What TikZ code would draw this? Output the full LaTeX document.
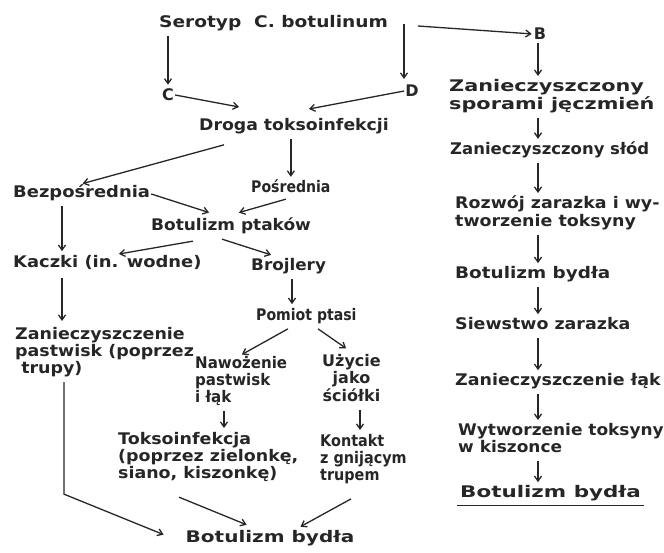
\documentclass[tikz,border=0pt]{standalone}
\usepackage{fontspec}
\usepackage{graphicx}
\setmainfont{DejaVu Sans}
\usetikzlibrary{arrows.meta,calc}
\newcommand\hs[2]{\scalebox{#1}[1]{\begin{tabular}{@{}l@{}}#2\end{tabular}}}
\newcommand\hsc[2]{\scalebox{#1}[1]{\begin{tabular}{@{}c@{}}#2\end{tabular}}}
\begin{document}
\begin{tikzpicture}[x=1pt,y=-1pt,
  t/.style={inner sep=1pt,font=\bfseries\fontsize{16}{17}\selectfont,text=black!85},
  arr/.style={-{Straight Barb[length=5pt,width=7pt]},line width=1.3pt,black!85,shorten >=1pt},
  ln/.style={line width=1.3pt,black!85}]
\useasboundingbox (0,0) rectangle (664,553);
% left part
\node[t,anchor=west] (ser) at (158,24) {\hs{1.16}{Serotyp\ \ C. botulinum}};
\node[t] (C) at (168,95) {C};
\node[t] (D) at (412,91) {D};
\node[t] (B) at (540,34) {B};
\node[t,anchor=west] (droga) at (198,127) {\hs{1.08}{Droga toksoinfekcji}};
\node[t,anchor=west] (bez) at (12,194) {\hs{1.12}{Bezpośrednia}};
\node[t,anchor=west] (pos) at (250,189) {\hs{0.88}{Pośrednia}};
\node[t,anchor=west] (bp) at (150,227) {\hs{1.06}{Botulizm ptaków}};
\node[t,anchor=west] (kacz) at (12,264) {\hs{1.12}{Kaczki (in. wodne)}};
\node[t,anchor=west] (broj) at (250,267) {\hs{1.05}{Brojlery}};
\node[t,anchor=north west] (zan) at (14,326) {\hs{1.09}{Zanieczyszczenie\\pastwisk (poprzez\\\ trupy)}};
\node[t,anchor=west] (pom) at (255,317) {\hs{0.88}{Pomiot ptasi}};
\node[t,anchor=north west] (naw) at (194,355) {\hs{0.94}{Nawożenie\\pastwisk\\i łąk}};
\node[t,anchor=north west] (uzy) at (321,353) {\hsc{1.0}{Użycie\\jako\\ściółki}};
\node[t,anchor=north west] (tok) at (117,431) {\hs{1.09}{Toksoinfekcja\\(poprzez zielonkę,\\siano, kiszonkę)}};
\node[t,anchor=north west] (kon) at (319,433) {\hs{0.9}{Kontakt\\z gnijącym\\trupem}};
\node[t] (bb) at (270,539) {\hs{1.25}{Botulizm bydła}};
% right column
\node[t,anchor=north west] (r1) at (448,78) {\hs{1.3}{Zanieczyszczony\\sporami jęczmień}};
\node[t,anchor=west] (r2) at (449,151) {\hs{1.03}{Zanieczyszczony słód}};
\node[t,anchor=north west] (r3) at (454,195) {\hs{1.09}{Rozwój zarazka i wy-\\tworzenie toksyny}};
\node[t,anchor=west] (r4) at (454,275) {\hs{1.15}{Botulizm bydła}};
\node[t,anchor=west] (r5) at (454,326) {\hs{1.09}{Siewstwo zarazka}};
\node[t,anchor=west] (r6) at (454,382) {\hs{1.09}{Zanieczyszczenie łąk}};
\node[t,anchor=north west] (r7) at (457,422) {\hs{1.06}{Wytworzenie toksyny\\w kiszonce}};
\node[t,anchor=west] (r8) at (459,494) {\hs{1.34}{Botulizm bydła}};
\coordinate (rc) at (538,0);
\coordinate (bstart) at (418,26);
% connectors
\draw[arr,shorten <=2pt,shorten >=3pt] (C.north |- ser.south) -- (C.north);
\draw[arr,shorten <=2pt,shorten >=5pt] ($(D.north)+(-8,0)$) ++(0,-62) -- ($(D.north)+(-8,0)$);
\draw[arr] (bstart) -- (B.west);
\draw[arr] (C.east) -- ($(droga.north west)+(42,-10)$);
\draw[arr] (D.west) -- ($(droga.north west)+(110,-8)$);
\draw[arr] ($(droga.south west)+(26,8)$) -- (bez.north);
\draw[arr,shorten <=2pt,shorten >=2pt] (pos.north |- droga.south) -- (pos.north);
\draw[arr] (bez.east) -- ($(bp.north west)+(60,-4)$);
\draw[arr] ($(pos.south)+(-5,0)$) -- ($(bp.north west)+(88,-4)$);
\draw[arr] ($(bp.south west)+(43,4)$) -- ($(kacz.north west)+(106,0)$);
\draw[arr] ($(bp.south west)+(72,2)$) -- ($(broj.north west)+(22,-2)$);
\draw[arr] ($(bez.south west)+(50,2)$) -- ($(kacz.north west)+(50,-2)$);
\draw[arr] ($(kacz.south west)+(50,4)$) -- ($(zan.north west)+(48,-4)$);
\draw[arr] ($(broj.south west)+(42,2)$) -- ($(pom.north west)+(37,-2)$);
\draw[arr] ($(pom.south west)+(33,2)$) -- ($(naw.north west)+(47,0)$);
\draw[arr] ($(pom.south west)+(63,2)$) -- ($(uzy.north west)+(26,-4)$);
\draw[arr] ($(naw.south west)+(30,2)$) -- ($(tok.north west)+(107,-2)$);
\draw[arr] ($(uzy.south west)+(39,2)$) -- ($(kon.north west)+(41,-2)$);
\draw[arr] ($(zan.south west)+(50,2)$) -- ++(0,112) -- ($(bb.west)+(-20,-4)$);
\draw[arr] ($(tok.south west)+(62,12)$) -- ($(bb.north west)+(63,-4)$);
\draw[arr] ($(kon.south west)+(32,12)$) -- ($(bb.north west)+(115,-2)$);
\draw[arr,shorten <=2pt,shorten >=2pt] (B.south -| rc) -- (r1.north -| rc);
\draw[arr,shorten <=2pt,shorten >=2pt] (r1.south -| rc) -- (r2.north -| rc);
\draw[arr,shorten <=2pt,shorten >=2pt] (r2.south -| rc) -- (r3.north -| rc);
\draw[arr,shorten <=2pt,shorten >=2pt] (r3.south -| rc) -- (r4.north -| rc);
\draw[arr,shorten <=2pt,shorten >=2pt] (r4.south -| rc) -- (r5.north -| rc);
\draw[arr,shorten <=2pt,shorten >=2pt] (r5.south -| rc) -- (r6.north -| rc);
\draw[arr,shorten <=2pt,shorten >=2pt] (r6.south -| rc) -- (r7.north -| rc);
\draw[arr,shorten <=2pt,shorten >=2pt] (r7.south -| rc) -- (r8.north -| rc);
\draw[ln] ($(r8.south west)+(-2,2)$) -- ($(r8.south east)+(2,2)$);
\end{tikzpicture}
\end{document}
